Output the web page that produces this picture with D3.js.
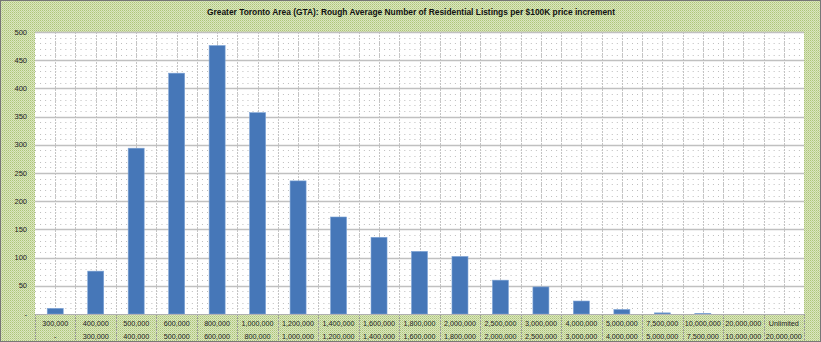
<!DOCTYPE html>
<html><head><meta charset="utf-8">
<script src="https://cdn.jsdelivr.net/npm/d3@7"></script>
<style>html,body{margin:0;padding:0;background:#fff;}svg{display:block;}</style>
</head><body>
<script>
const upperLabels = ["300,000","400,000","500,000","600,000","800,000","1,000,000","1,200,000","1,400,000","1,600,000","1,800,000","2,000,000","2,500,000","3,000,000","4,000,000","5,000,000","7,500,000","10,000,000","20,000,000","Unlimited"];
const lowerLabels = ["-","300,000","400,000","500,000","600,000","800,000","1,000,000","1,200,000","1,400,000","1,600,000","1,800,000","2,000,000","2,500,000","3,000,000","4,000,000","5,000,000","7,500,000","10,000,000","20,000,000"];
const listings = [10,76,294,427,476,357,236,172,136,111,102,60,48,23,8,2,1,0,0];
const yTicks = [0,50,100,150,200,250,300,350,400,450,500];
const title = "Greater Toronto Area (GTA): Rough Average Number of Residential Listings per $100K price increment";

const W = 821, H = 342;
const m = {left:35, right:17, top:32, bottom:28};
const svg = d3.select("body").append("svg").attr("width", W).attr("height", H);

const defs = svg.append("defs");
const pat = defs.append("pattern").attr("id","dither").attr("width",2).attr("height",2).attr("patternUnits","userSpaceOnUse");
pat.append("rect").attr("width",2).attr("height",2).attr("fill","#dae5c0");
pat.append("rect").attr("width",1).attr("height",1).attr("fill","#adc677");
pat.append("rect").attr("x",1).attr("y",1).attr("width",1).attr("height",1).attr("fill","#c2d597");

svg.append("rect").attr("x",0.5).attr("y",0.5).attr("width",W-1).attr("height",H-1)
  .attr("fill","url(#dither)").attr("stroke","#777").attr("stroke-width",1);

const x = d3.scaleBand().domain(upperLabels).range([m.left, W - m.right]).paddingInner(0).paddingOuter(0);
const y = d3.scaleLinear().domain([0,500]).range([H - m.bottom, m.top]);
const bw = x.bandwidth();

svg.append("rect").attr("x", m.left).attr("y", m.top).attr("width", W-m.right-m.left).attr("height", H-m.bottom-m.top).attr("fill","#fff");

const g = svg.append("g");
const minor = d3.range(10,500,10).filter(v => v % 50 !== 0);
g.selectAll("line.hmin").data(minor).join("line")
  .attr("x1", m.left).attr("x2", W-m.right)
  .attr("y1", d => Math.round(y(d))+0.5).attr("y2", d => Math.round(y(d))+0.5)
  .attr("stroke","#bdbdbd").attr("stroke-width",1).attr("stroke-dasharray", `1,${bw/8-1}`);
const halfPos = d3.range(0, upperLabels.length*2+1).map(i => m.left + i*bw/2);
g.selectAll("line.vhalf").data(halfPos.slice(1,-1)).join("line")
  .attr("x1", d => Math.round(d)+0.5).attr("x2", d => Math.round(d)+0.5)
  .attr("y1", m.top).attr("y2", H-m.bottom)
  .attr("stroke","#c4c4c4").attr("stroke-width",1).attr("stroke-dasharray","2,1");
g.selectAll("line.hmaj").data(yTicks.slice(1)).join("line")
  .attr("x1", m.left).attr("x2", W-m.right)
  .attr("y1", d => Math.round(y(d))+0.5).attr("y2", d => Math.round(y(d))+0.5)
  .attr("stroke","#c0c0c0").attr("stroke-width",1.6);

const barW = 16;
svg.selectAll("rect.bar").data(listings).join("rect")
  .attr("x", (d,i) => x(upperLabels[i]) + bw/2 - barW/2)
  .attr("y", d => y(d)).attr("width", barW).attr("height", d => y(0)-y(d))
  .attr("fill","#4677b8").attr("stroke","#7ea4d6").attr("stroke-width",0.6);

svg.selectAll("text.yt").data(yTicks).join("text")
  .attr("x", 27).attr("y", d => y(d)+2.5).attr("text-anchor","end")
  .attr("font-family","Liberation Sans, Arial, sans-serif").attr("font-size",7.5).attr("fill","#222")
  .text(d => d === 0 ? "-" : d3.format(",")(d));

svg.selectAll("line.csep").data(d3.range(0, upperLabels.length+1)).join("line")
  .attr("x1", i => Math.round(m.left + i*bw)+0.5).attr("x2", i => Math.round(m.left + i*bw)+0.5)
  .attr("y1", H-m.bottom).attr("y2", H-1)
  .attr("stroke","#9a9a9a").attr("stroke-width",1).attr("stroke-dasharray","2,1");
svg.append("line").attr("x1", m.left).attr("x2", W-m.right).attr("y1", y(0)+0.5).attr("y2", y(0)+0.5).attr("stroke","#b0b0b0");

const lab = svg.append("g").attr("font-family","Liberation Sans, Arial, sans-serif").attr("font-size",7.2).attr("fill","#222").attr("text-anchor","middle");
lab.selectAll("text.u").data(upperLabels).join("text")
  .attr("x", d => x(d)+bw/2).attr("y", 326).text(d => d);
lab.selectAll("text.l").data(lowerLabels).join("text")
  .attr("x", (d,i) => x(upperLabels[i])+bw/2).attr("y", 339).text(d => d);

svg.append("text").attr("x", 411).attr("y", 15).attr("text-anchor","middle")
  .attr("font-family","Liberation Sans, Arial, sans-serif").attr("font-weight","bold").attr("font-size",8.5).attr("fill","#111")
  .attr("textLength", 408).attr("lengthAdjust","spacingAndGlyphs")
  .text(title);
</script>
</body></html>
